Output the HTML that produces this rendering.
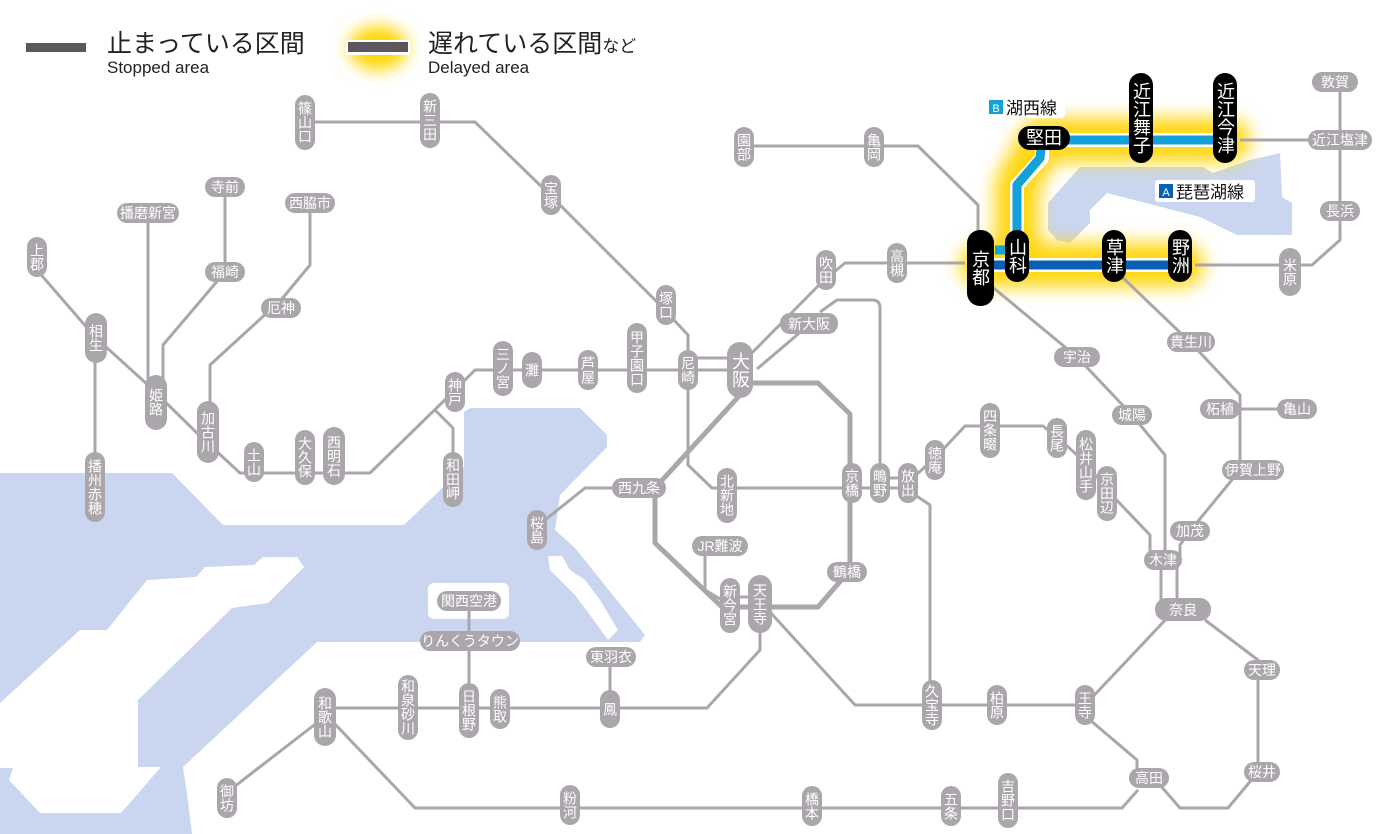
<!DOCTYPE html>
<html><head><meta charset="utf-8">
<style>
html,body{margin:0;padding:0;background:#fff;}
svg{display:block;font-family:"Liberation Sans","Noto Sans CJK JP",sans-serif;}
.l{fill:none;stroke:#aaa6ab;stroke-width:3;stroke-linejoin:round;}
.t{fill:none;stroke:#aaa6ab;stroke-width:5;stroke-linejoin:round;}
.g{fill:#aaa6ab;}
.k{fill:#000;}
.w{fill:#fff;font-size:14px;}
.wb{fill:#fff;font-size:18px;}
.v{writing-mode:tb;}
</style></head><body>
<svg width="1400" height="834" viewBox="0 0 1400 834" xmlns="http://www.w3.org/2000/svg">
<defs>
<filter id="bl" x="-50%" y="-50%" width="200%" height="200%"><feGaussianBlur stdDeviation="9"/></filter>
<filter id="bl2" x="-100%" y="-100%" width="300%" height="300%"><feGaussianBlur stdDeviation="8"/></filter>
</defs>
<!-- sea -->
<polygon fill="#cad6f0" points="0,473 172,473 223,525 404,525 464,467 464,412 470,408 580,408 607,435 607,447 560,495 555,530 575,548 645,635 640,642 317,642 183,767 187,793 192,834 0,834"/>
<polygon fill="#fff" points="297,557 304,567 268,603 232,608 138,700 138,767 161,767 121,813 40,813 9,780 13,768 0,768 0,703 80,630 107,630 147,580 196,577 205,567 254,565 263,557"/>
<polygon fill="#fff" points="592,495 600,502 585,525 575,530 565,528 575,515"/>
<polygon fill="#fff" points="548,556 562,556 570,570 585,580 600,600 618,630 608,640 590,615 575,595 560,580 550,570"/>
<rect x="428" y="583" width="81" height="36" rx="6" fill="#fff"/>
<!-- lake -->
<polygon fill="#cad6f0" points="1057,240 1048,230 1048,203 1080,167 1203,167 1213,173 1250,160 1280,153 1282,197 1292,203 1292,235 1237,235 1200,217 1107,193 1090,210 1090,223 1070,243"/>

<!-- legend -->
<rect x="26" y="43" width="60" height="9" fill="#5a585c"/>
<text x="107" y="52" font-size="25" fill="#222">止まっている区間</text>
<text x="107" y="73" font-size="17" fill="#222">Stopped area</text>
<ellipse cx="378" cy="48" rx="30" ry="22" fill="#ffd700" filter="url(#bl2)"/>
<rect x="346" y="40" width="64" height="15" fill="#fff"/>
<rect x="348" y="42" width="60" height="10" fill="#5a585c"/>
<text x="428" y="52" font-size="25" fill="#222">遅れている区間<tspan font-size="17">など</tspan></text>
<text x="428" y="73" font-size="17" fill="#222">Delayed area</text>

<!-- yellow glow -->
<g filter="url(#bl)" stroke="#ffd400" stroke-width="44" fill="none" stroke-linejoin="round" stroke-linecap="round" opacity="0.95">
<path d="M982,265 H1182 M1017,262 V185 L1042,140 H1228"/>
</g>

<!-- gray lines -->
<path class="l" d="M305,122 H475 L545,190 L660,305 L688,335 V465 L712,488 H907"/>
<path class="l" d="M37,270 L95,337 L148,385 L200,436 L240,473 H370 L455,390 L475,370 H740"/>
<path class="l" d="M688,358 H740"/>
<path class="l" d="M148,213 V385 M225,187 V272 L163,345 V385 M310,203 V265 L281,300 L210,365 V410 M95,337 V483"/>
<path class="l" d="M435,410 L453,428 V478"/>
<path class="l" d="M745,360 L822,282 L845,263 H965 M757,369 L797,335 L808,323 M820,312 L837,300 H872 Q880,300 880,308 V483"/>
<path class="l" d="M744,146 H918 L978,205 V232"/>
<path class="l" d="M1195,265 H1312 L1340,240 V82 M1240,140 H1340"/>
<path class="l" d="M990,285 L1077,357 L1132,415 L1165,455 V560"/>
<path class="l" d="M1120,275 L1190,342 L1240,395 V470 L1190,531 L1180,545 V560 M1220,409 H1295"/>
<path class="l" d="M1161,565 V609 M1177,565 V609"/>
<path class="l" d="M907,483 L935,458 L965,426 H1043 L1057,437 L1086,463 L1107,490 L1150,535 V560"/>
<path class="l" d="M880,478 H907 M915,495 L930,505 V701"/>
<path class="l" d="M625,488 H585 L545,520 M705,556 V590 L722,600 M730,597 H760"/>
<path class="l" d="M770,612 L855,705 H1085 L1170,615 M1205,620 L1258,660 V772 L1228,808 H1180 L1160,785"/>
<path class="l" d="M1090,720 L1137,760 V770 M1138,790 L1122,808 H415 L333,722 M318,722 L230,790"/>
<path class="l" d="M760,620 V650 L707,708 H325 M469,610 V707 M610,667 V710"/>
<path class="t" d="M750,383 H818 L850,414 V570 L818,607 H722 L655,543 V488 L740,395"/>

<!-- blue lines -->
<path d="M980,265 H1182" stroke="#fff" stroke-width="14" fill="none"/>
<path d="M980,265 H1182" stroke="#0a5fb0" stroke-width="9" fill="none"/>
<path d="M1017,258 V185 L1042,158 L1042,140 H1228" stroke="#fff" stroke-width="14" fill="none" stroke-linejoin="round"/>
<path d="M1017,258 V185 L1040,158 L1042,140 H1228" stroke="#12a2d8" stroke-width="9" fill="none" stroke-linejoin="round"/>
<path d="M995,250 H1010" stroke="#12a2d8" stroke-width="9"/>

<!-- line labels -->
<rect x="985" y="96" width="80" height="22" rx="3" fill="#fff"/>
<rect x="989" y="100" width="14" height="14" fill="#12a2d8"/><text x="996" y="112" font-size="11" fill="#fff" text-anchor="middle">B</text>
<text x="1006" y="114" font-size="17" fill="#111">湖西線</text>
<rect x="1155" y="180" width="100" height="22" rx="3" fill="#fff"/>
<rect x="1159" y="184" width="14" height="14" fill="#0a5fb0"/><text x="1166" y="196" font-size="11" fill="#fff" text-anchor="middle">A</text>
<text x="1176" y="198" font-size="17" fill="#111">琵琶湖線</text>

<!-- black stations -->
<rect class="k" x="967" y="230" width="27" height="76" rx="13"/><text class="wb v" x="980" y="268" text-anchor="middle" font-size="21">京都</text>
<rect class="k" x="1005" y="230" width="24" height="52" rx="12"/><text class="wb v" x="1017" y="256" text-anchor="middle">山科</text>
<rect class="k" x="1018" y="126" width="52" height="24" rx="12"/><text class="wb" x="1044" y="144" text-anchor="middle">堅田</text>
<rect class="k" x="1129" y="73" width="24" height="90" rx="12"/><text class="wb v" x="1141" y="118" text-anchor="middle">近江舞子</text>
<rect class="k" x="1213" y="73" width="24" height="90" rx="12"/><text class="wb v" x="1225" y="118" text-anchor="middle">近江今津</text>
<rect class="k" x="1102" y="230" width="24" height="52" rx="12"/><text class="wb v" x="1114" y="256" text-anchor="middle">草津</text>
<rect class="k" x="1168" y="230" width="24" height="52" rx="12"/><text class="wb v" x="1180" y="256" text-anchor="middle">野洲</text>

<!-- gray vertical stations -->
<g>
<rect class="g" x="295" y="95" width="20" height="55" rx="10"/><text class="w v" x="305" y="122" text-anchor="middle">篠山口</text>
<rect class="g" x="420" y="93" width="20" height="55" rx="10"/><text class="w v" x="430" y="120" text-anchor="middle">新三田</text>
<rect class="g" x="541" y="175" width="20" height="40" rx="10"/><text class="w v" x="551" y="195" text-anchor="middle">宝塚</text>
<rect class="g" x="656" y="285" width="20" height="40" rx="10"/><text class="w v" x="666" y="305" text-anchor="middle">塚口</text>
<rect class="g" x="493" y="341" width="20" height="55" rx="10"/><text class="w v" x="503" y="368" text-anchor="middle">三ノ宮</text>
<rect class="g" x="522" y="352" width="20" height="36" rx="10"/><text class="w v" x="532" y="370" text-anchor="middle">灘</text>
<rect class="g" x="578" y="350" width="20" height="40" rx="10"/><text class="w v" x="588" y="370" text-anchor="middle">芦屋</text>
<rect class="g" x="627" y="323" width="20" height="70" rx="10"/><text class="w v" x="637" y="358" text-anchor="middle">甲子園口</text>
<rect class="g" x="678" y="350" width="20" height="40" rx="10"/><text class="w v" x="688" y="370" text-anchor="middle">尼崎</text>
<rect class="g" x="727" y="342" width="26" height="56" rx="13"/><text class="wb v" x="740" y="370" text-anchor="middle">大阪</text>
<rect class="g" x="816" y="250" width="20" height="40" rx="10"/><text class="w v" x="826" y="270" text-anchor="middle">吹田</text>
<rect class="g" x="887" y="243" width="20" height="40" rx="10"/><text class="w v" x="897" y="263" text-anchor="middle">高槻</text>
<rect class="g" x="864" y="127" width="20" height="40" rx="10"/><text class="w v" x="874" y="147" text-anchor="middle">亀岡</text>
<rect class="g" x="734" y="127" width="20" height="40" rx="10"/><text class="w v" x="744" y="147" text-anchor="middle">園部</text>
<rect class="g" x="1279" y="248" width="22" height="48" rx="11"/><text class="w v" x="1290" y="272" text-anchor="middle" font-size="16">米原</text>
<rect class="g" x="27" y="237" width="20" height="40" rx="10"/><text class="w v" x="37" y="257" text-anchor="middle">上郡</text>
<rect class="g" x="85" y="313" width="22" height="50" rx="11"/><text class="w v" x="96" y="338" text-anchor="middle" font-size="16">相生</text>
<rect class="g" x="85" y="452" width="20" height="70" rx="10"/><text class="w v" x="95" y="487" text-anchor="middle">播州赤穂</text>
<rect class="g" x="145" y="375" width="22" height="55" rx="11"/><text class="w v" x="156" y="402" text-anchor="middle" font-size="16">姫路</text>
<rect class="g" x="197" y="401" width="22" height="62" rx="11"/><text class="w v" x="208" y="432" text-anchor="middle">加古川</text>
<rect class="g" x="244" y="442" width="20" height="40" rx="10"/><text class="w v" x="254" y="462" text-anchor="middle">土山</text>
<rect class="g" x="295" y="430" width="20" height="55" rx="10"/><text class="w v" x="305" y="457" text-anchor="middle">大久保</text>
<rect class="g" x="323" y="427" width="22" height="58" rx="11"/><text class="w v" x="334" y="456" text-anchor="middle">西明石</text>
<rect class="g" x="445" y="372" width="20" height="40" rx="10"/><text class="w v" x="455" y="392" text-anchor="middle">神戸</text>
<rect class="g" x="443" y="452" width="20" height="55" rx="10"/><text class="w v" x="453" y="479" text-anchor="middle">和田岬</text>
<rect class="g" x="527" y="510" width="20" height="40" rx="10"/><text class="w v" x="537" y="530" text-anchor="middle">桜島</text>
<rect class="g" x="717" y="468" width="20" height="55" rx="10"/><text class="w v" x="727" y="495" text-anchor="middle">北新地</text>
<rect class="g" x="842" y="463" width="20" height="40" rx="10"/><text class="w v" x="852" y="483" text-anchor="middle">京橋</text>
<rect class="g" x="870" y="463" width="20" height="40" rx="10"/><text class="w v" x="880" y="483" text-anchor="middle">鴫野</text>
<rect class="g" x="898" y="463" width="20" height="40" rx="10"/><text class="w v" x="908" y="483" text-anchor="middle">放出</text>
<rect class="g" x="925" y="440" width="20" height="40" rx="10"/><text class="w v" x="935" y="460" text-anchor="middle">徳庵</text>
<rect class="g" x="980" y="403" width="20" height="55" rx="10"/><text class="w v" x="990" y="430" text-anchor="middle">四条畷</text>
<rect class="g" x="1047" y="418" width="20" height="40" rx="10"/><text class="w v" x="1057" y="438" text-anchor="middle">長尾</text>
<rect class="g" x="1076" y="430" width="20" height="70" rx="10"/><text class="w v" x="1086" y="465" text-anchor="middle">松井山手</text>
<rect class="g" x="1097" y="466" width="20" height="55" rx="10"/><text class="w v" x="1107" y="493" text-anchor="middle">京田辺</text>
<rect class="g" x="720" y="578" width="20" height="55" rx="10"/><text class="w v" x="730" y="605" text-anchor="middle">新今宮</text>
<rect class="g" x="748" y="575" width="24" height="58" rx="12"/><text class="w v" x="760" y="604" text-anchor="middle" font-size="16">天王寺</text>
<rect class="g" x="600" y="690" width="20" height="38" rx="10"/><text class="w v" x="610" y="709" text-anchor="middle">鳳</text>
<rect class="g" x="490" y="689" width="20" height="40" rx="10"/><text class="w v" x="500" y="709" text-anchor="middle">熊取</text>
<rect class="g" x="459" y="683" width="20" height="55" rx="10"/><text class="w v" x="469" y="710" text-anchor="middle">日根野</text>
<rect class="g" x="398" y="675" width="20" height="65" rx="10"/><text class="w v" x="408" y="707" text-anchor="middle">和泉砂川</text>
<rect class="g" x="314" y="688" width="22" height="58" rx="11"/><text class="w v" x="325" y="717" text-anchor="middle" font-size="16">和歌山</text>
<rect class="g" x="217" y="778" width="20" height="40" rx="10"/><text class="w v" x="227" y="798" text-anchor="middle">御坊</text>
<rect class="g" x="560" y="785" width="20" height="40" rx="10"/><text class="w v" x="570" y="805" text-anchor="middle">粉河</text>
<rect class="g" x="802" y="786" width="20" height="40" rx="10"/><text class="w v" x="812" y="806" text-anchor="middle">橋本</text>
<rect class="g" x="941" y="786" width="20" height="40" rx="10"/><text class="w v" x="951" y="806" text-anchor="middle">五条</text>
<rect class="g" x="998" y="773" width="20" height="55" rx="10"/><text class="w v" x="1008" y="800" text-anchor="middle">吉野口</text>
<rect class="g" x="922" y="680" width="20" height="50" rx="10"/><text class="w v" x="932" y="705" text-anchor="middle">久宝寺</text>
<rect class="g" x="987" y="685" width="20" height="40" rx="10"/><text class="w v" x="997" y="705" text-anchor="middle">柏原</text>
<rect class="g" x="1075" y="685" width="20" height="40" rx="10"/><text class="w v" x="1085" y="705" text-anchor="middle">王寺</text>
</g>

<!-- gray horizontal stations -->
<g text-anchor="middle">
<rect class="g" x="780" y="313" width="58" height="21" rx="10"/><text class="w" x="809" y="329" font-size="15">新大阪</text>
<rect class="g" x="1312" y="72" width="46" height="20" rx="10"/><text class="w" x="1335" y="87">敦賀</text>
<rect class="g" x="1308" y="130" width="64" height="20" rx="10"/><text class="w" x="1340" y="145">近江塩津</text>
<rect class="g" x="1320" y="201" width="40" height="20" rx="10"/><text class="w" x="1340" y="216">長浜</text>
<rect class="g" x="117" y="203" width="62" height="20" rx="10"/><text class="w" x="148" y="218">播磨新宮</text>
<rect class="g" x="205" y="177" width="40" height="20" rx="10"/><text class="w" x="225" y="192">寺前</text>
<rect class="g" x="205" y="262" width="40" height="20" rx="10"/><text class="w" x="225" y="277">福崎</text>
<rect class="g" x="285" y="193" width="50" height="20" rx="10"/><text class="w" x="310" y="208">西脇市</text>
<rect class="g" x="261" y="298" width="40" height="20" rx="10"/><text class="w" x="281" y="313">厄神</text>
<rect class="g" x="612" y="478" width="54" height="20" rx="10"/><text class="w" x="639" y="493">西九条</text>
<rect class="g" x="1054" y="347" width="46" height="20" rx="10"/><text class="w" x="1077" y="362">宇治</text>
<rect class="g" x="1112" y="405" width="40" height="20" rx="10"/><text class="w" x="1132" y="420">城陽</text>
<rect class="g" x="1144" y="550" width="38" height="20" rx="10"/><text class="w" x="1163" y="565">木津</text>
<rect class="g" x="1155" y="598" width="56" height="23" rx="11"/><text class="w" x="1183" y="615" font-size="17">奈良</text>
<rect class="g" x="1170" y="521" width="40" height="20" rx="10"/><text class="w" x="1190" y="536">加茂</text>
<rect class="g" x="1222" y="460" width="62" height="20" rx="10"/><text class="w" x="1253" y="475">伊賀上野</text>
<rect class="g" x="1200" y="399" width="40" height="20" rx="10"/><text class="w" x="1220" y="414">柘植</text>
<rect class="g" x="1277" y="399" width="40" height="20" rx="10"/><text class="w" x="1297" y="414">亀山</text>
<rect class="g" x="1167" y="332" width="48" height="20" rx="10"/><text class="w" x="1191" y="347">貴生川</text>
<rect class="g" x="692" y="536" width="56" height="20" rx="10"/><text class="w" x="720" y="551">JR難波</text>
<rect class="g" x="827" y="562" width="40" height="20" rx="10"/><text class="w" x="847" y="577">鶴橋</text>
<rect class="g" x="437" y="591" width="64" height="20" rx="10"/><text class="w" x="469" y="606">関西空港</text>
<rect class="g" x="420" y="631" width="100" height="20" rx="10"/><text class="w" x="470" y="646">りんくうタウン</text>
<rect class="g" x="586" y="647" width="50" height="20" rx="10"/><text class="w" x="611" y="662">東羽衣</text>
<rect class="g" x="1129" y="768" width="40" height="20" rx="10"/><text class="w" x="1149" y="783">高田</text>
<rect class="g" x="1244" y="660" width="36" height="20" rx="10"/><text class="w" x="1262" y="675">天理</text>
<rect class="g" x="1244" y="762" width="36" height="20" rx="10"/><text class="w" x="1262" y="777">桜井</text>
</g>
</svg>
</body></html>
